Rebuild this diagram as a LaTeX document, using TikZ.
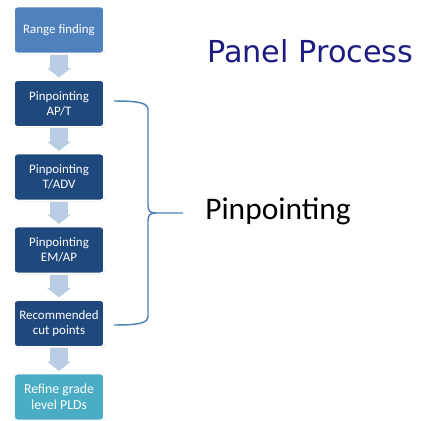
\documentclass[tikz,border=0pt]{standalone}
\usepackage{fontspec}
\setmainfont{Carlito}
\newfontfamily\titlefont{DejaVu Sans}
\usetikzlibrary{arrows.meta,shadows}
\definecolor{midblue}{RGB}{79,129,189}
\definecolor{darkblue}{RGB}{31,73,125}
\definecolor{tealblue}{RGB}{75,172,198}
\definecolor{paleblue}{RGB}{185,205,229}
\definecolor{navy}{RGB}{28,28,130}

\begin{document}
\begin{tikzpicture}[x=0.75pt,y=-0.75pt,
  stagebox/.style={rectangle,rounded corners=2.5pt,draw=white,line width=1.2pt,fill=darkblue,text=white,
    minimum width=67.5pt,minimum height=35pt,align=center,font=\fontsize{9.7}{11}\selectfont,
    drop shadow={opacity=0.25,shadow xshift=0.8pt,shadow yshift=-0.8pt}},
  flow/.style={paleblue,line width=13.5pt,-{Triangle[width=18pt,length=7pt,line width=0pt]},shorten <=0.5pt,shorten >=1.5pt}]
\fill[white] (0,0) rectangle (425,421);
\useasboundingbox (0,0) rectangle (425,421);
% process steps
\node[stagebox,fill=midblue] (range) at (59,30) {Range finding};
\node[stagebox] (apt) at (59,103.5) {Pinpointing\\AP/T};
\node[stagebox] (tadv) at (59,177) {Pinpointing\\T/ADV};
\node[stagebox] (emap) at (59,250) {Pinpointing\\EM/AP};
\node[stagebox] (cutpts) at (59,323.5) {Recommended\\cut points};
\node[stagebox,fill=tealblue,font=\fontsize{10.3}{12}\selectfont] (plds) at (59,397) {Refine grade\\level PLDs};
\foreach \a/\b in {range/apt,apt/tadv,tadv/emap,emap/cutpts,cutpts/plds}
  \draw[flow] (\a) -- (\b);
% titles
\node[font=\titlefont\fontsize{22.7}{26}\selectfont,text=navy,anchor=base west,inner sep=0pt] (title) at (207,62) {Panel Process};
\node[font=\fontsize{23.6}{26}\selectfont,anchor=base west,inner sep=0pt] (pinlabel) at (205,219) {Pinpointing};
% bracket
\draw[midblue,line width=1.1pt] (114,101) .. controls (140,101) and (148,103) .. (148,110) -- (148,205)
  .. controls (148,211) and (150,213) .. (156,213) -- (183,213);
\draw[midblue,line width=1.1pt] (156,213) .. controls (150,213) and (148,215) .. (148,221) -- (148,316)
  .. controls (148,323) and (140,325) .. (114,325);
\end{tikzpicture}
\end{document}
